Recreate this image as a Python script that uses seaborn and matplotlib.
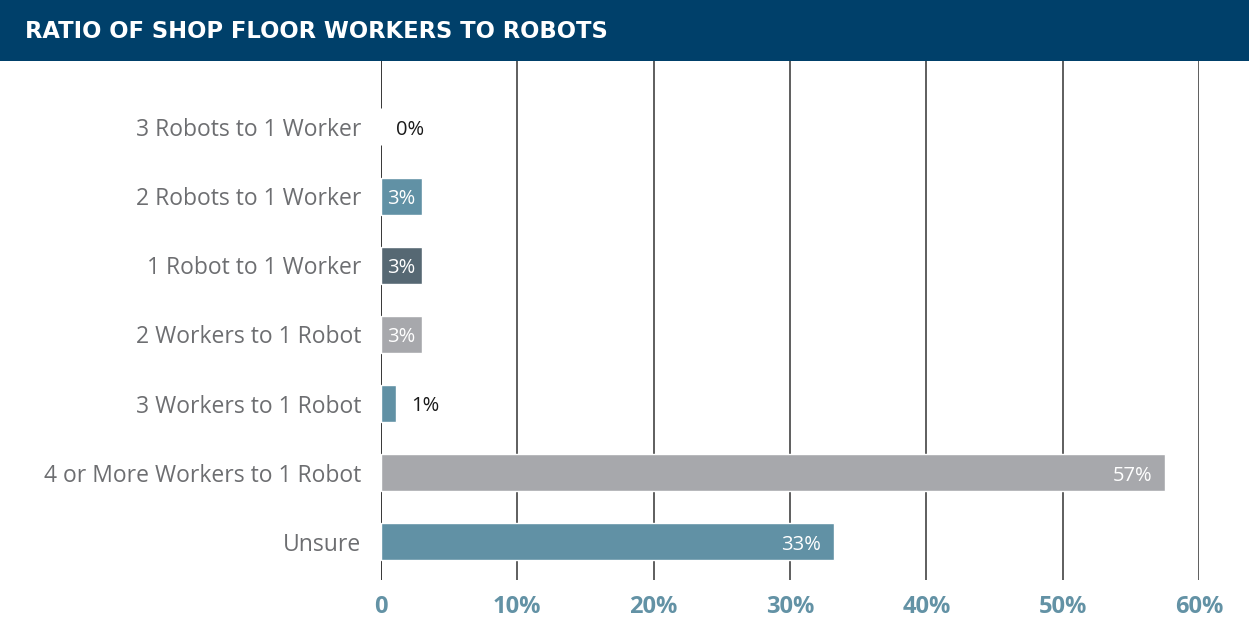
import matplotlib
matplotlib.use("Agg")
import matplotlib.pyplot as plt
import seaborn as sns
import pandas as pd
from matplotlib.patches import Rectangle

# --- data ---
categories = [
    "3 Robots to 1 Worker",
    "2 Robots to 1 Worker",
    "1 Robot to 1 Worker",
    "2 Workers to 1 Robot",
    "3 Workers to 1 Robot",
    "4 or More Workers to 1 Robot",
    "Unsure",
]
values = [0, 3, 3, 3, 1.1, 57.5, 33.2]
value_labels = ["0%", "3%", "3%", "3%", "1%", "57%", "33%"]
bar_colors = ["#6191a5", "#6191a5", "#566873", "#a7a8ac", "#6191a5", "#a7a8ac", "#6191a5"]
x_ticks = [0, 10, 20, 30, 40, 50, 60]
x_tick_labels = ["0", "10%", "20%", "30%", "40%", "50%", "60%"]
title = "RATIO OF SHOP FLOOR WORKERS TO ROBOTS"

W, H = 1249, 621
TITLE_BG = "#00406a"
TICK_BLUE = "#6392a5"
LABEL_GRAY = "#6d6e71"

sns.set_theme(style="white")
plt.rcParams["font.family"] = ["Open Sans", "DejaVu Sans"]

df = pd.DataFrame({"category": categories, "value": values})

fig = plt.figure(figsize=(W / 100, H / 100), dpi=100)
ax = fig.add_axes([381 / W, 1 - 580 / H, (1199 - 381) / W, (580 - 61) / H])

sns.barplot(data=df, x="value", y="category", hue="category", palette=bar_colors,
            legend=False, width=0.535, saturation=1, orient="h", ax=ax, zorder=3)

ax.set_xlim(0, 60)
ax.set_ylim(6.55, -0.954)
ax.set_xticks(x_ticks)
ax.set_xticklabels(x_tick_labels)
ax.set_xlabel("")
ax.set_ylabel("")

# vertical grid lines
for t in x_ticks:
    ax.axvline(t, color="#333333" if t > 0 else "black", lw=1.1, zorder=1)

for s in ax.spines.values():
    s.set_visible(False)

ax.tick_params(axis="x", length=0, pad=11, labelsize=17, labelcolor=TICK_BLUE)
ax.tick_params(axis="y", length=0, pad=14, labelsize=16.5, labelcolor=LABEL_GRAY)
for lbl in ax.get_xticklabels():
    lbl.set_fontweight("bold")

# value labels (nudged down a touch so they sit centred on the bars)
dy = 0.04
for i, (v, txt) in enumerate(zip(values, value_labels)):
    if v < 2:
        ax.text(v + 1.1, i + dy, txt, ha="left", va="center", fontsize=14.5,
                color="#1a1a1a", zorder=4)
    elif v < 10:
        ax.text(v / 2, i + dy, txt, ha="center", va="center", fontsize=14.5,
                color="white", zorder=4)
    else:
        ax.text(v - 0.9, i + dy, txt, ha="right", va="center", fontsize=14.5,
                color="white", zorder=4)

# title bar
fig.patches.append(Rectangle((0, 1 - 61 / H), 1, 61 / H, transform=fig.transFigure,
                             facecolor=TITLE_BG, edgecolor="none", zorder=0))
fig.text(25 / W, 1 - 31 / H, title, color="white", fontsize=16.3, fontweight="bold",
         family=["DejaVu Sans"], ha="left", va="center")

fig.savefig("out.png", dpi=100)
